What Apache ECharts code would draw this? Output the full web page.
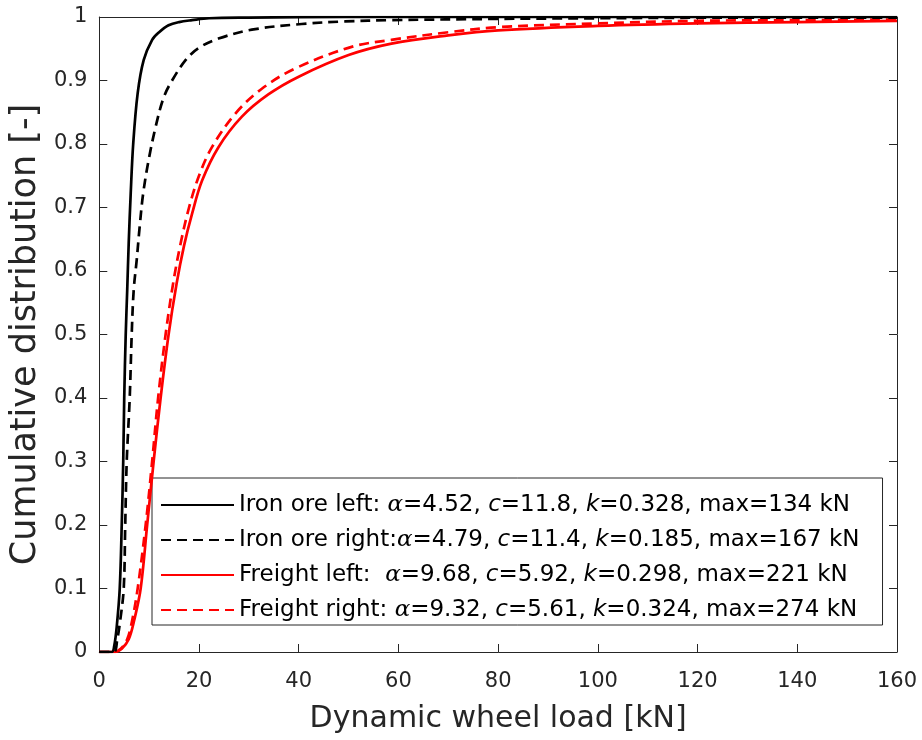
<!DOCTYPE html>
<html>
<head>
<meta charset="utf-8">
<script src="https://cdn.jsdelivr.net/npm/echarts@6/dist/echarts.min.js"></script>
<style>
html,body{margin:0;padding:0;background:#fff;}
#chart{width:922px;height:740px;}
</style>
</head>
<body>
<div id="chart"></div>
<script>
// ---- data ----
const seriesNames = ['Iron ore left', 'Iron ore right', 'Freight left', 'Freight right'];
const legendPrefix = ['Iron ore left: ', 'Iron ore right:', 'Freight left:  ', 'Freight right: '];
const alphaText = ['4.52', '4.79', '9.68', '9.32'];
const cText = ['11.8', '11.4', '5.92', '5.61'];
const kText = ['0.328', '0.185', '0.298', '0.324'];
const maxText = ['134', '167', '221', '274'];

const ironLeftX = [0, 2.5, 3.0, 3.5, 4.1, 4.5, 4.8, 5.0, 5.3, 5.6, 5.9, 6.3, 6.8, 7.7, 8.9, 10.6, 12.0, 13.9, 16.0, 18.6, 22, 30, 50, 160];
const ironLeftY = [0, 0, 0.01, 0.04, 0.1, 0.2, 0.3, 0.4, 0.5, 0.57, 0.644, 0.722, 0.80, 0.88, 0.932, 0.964, 0.976, 0.987, 0.992, 0.995, 0.998, 0.999, 1, 1];

const ironRightX = [0, 2.9, 3.6, 4.2, 4.9, 5.2, 5.5, 6.1, 6.5, 6.9, 7.5, 8.1, 8.8, 9.9, 11.3, 12.9, 14.6, 17.3, 19.9, 23.9, 30.6, 40.6, 49.3, 58.6, 80, 100, 130, 160];
const ironRightY = [0, 0, 0.02, 0.05, 0.1, 0.2, 0.3, 0.4, 0.5, 0.57, 0.617, 0.67, 0.722, 0.775, 0.827, 0.873, 0.90, 0.932, 0.951, 0.966, 0.98, 0.989, 0.993, 0.995, 0.997, 0.998, 0.999, 0.999];

const freightLeftX = [0, 3.2, 4.5, 5.9, 7.0, 8.3, 9.6, 10.9, 12.3, 13.9, 15.5, 17.0, 18.6, 20.6, 23.9, 28.6, 33.9, 40, 50, 58.6, 70, 80, 100, 120, 140, 160];
const freightLeftY = [0, 0, 0.005, 0.02, 0.05, 0.1, 0.2, 0.3, 0.4, 0.5, 0.58, 0.64, 0.69, 0.742, 0.795, 0.843, 0.878, 0.906, 0.94, 0.958, 0.971, 0.979, 0.986, 0.99, 0.992, 0.994];

const freightRightX = [0, 3.0, 4.3, 5.6, 6.6, 7.7, 9.3, 10.6, 11.8, 13.3, 14.8, 16.3, 18.0, 20.0, 22.6, 27.3, 32.6, 39.3, 50.6, 58.6, 70, 80, 100, 120, 140, 160];
const freightRightY = [0, 0, 0.005, 0.02, 0.05, 0.1, 0.2, 0.3, 0.4, 0.5, 0.58, 0.643, 0.70, 0.75, 0.795, 0.848, 0.887, 0.919, 0.953, 0.964, 0.976, 0.984, 0.99, 0.994, 0.995, 0.996];

const xTicks = [0, 20, 40, 60, 80, 100, 120, 140, 160];
const yTicks = [0, 0.1, 0.2, 0.3, 0.4, 0.5, 0.6, 0.7, 0.8, 0.9, 1];

// ---- chart ----
const pairs = (xs, ys) => xs.map((x, i) => [x, ys[i]]);
const seriesData = [
  pairs(ironLeftX, ironLeftY),
  pairs(ironRightX, ironRightY),
  pairs(freightLeftX, freightLeftY),
  pairs(freightRightX, freightRightY)
];
const colors = ['#000000', '#000000', '#ff0000', '#ff0000'];
const dashed = [false, true, false, true];

const axisColor = '#262626';
const font = '"DejaVu Sans", "Liberation Sans", Arial, sans-serif';

const chart = echarts.init(document.getElementById('chart'), null, {renderer: 'canvas'});

const baseX = {
  type: 'value', min: xTicks[0], max: xTicks[xTicks.length - 1], interval: xTicks[1] - xTicks[0],
  axisLine: {show: true, onZero: false, lineStyle: {color: axisColor, width: 1}},
  axisTick: {show: true, inside: true, length: 8, lineStyle: {color: axisColor}},
  splitLine: {show: false}
};
const baseY = {
  type: 'value', min: yTicks[0], max: yTicks[yTicks.length - 1], interval: 0.1,
  axisLine: {show: true, onZero: false, lineStyle: {color: axisColor, width: 1}},
  axisTick: {show: true, inside: true, length: 8, lineStyle: {color: axisColor}},
  splitLine: {show: false}
};

const legendFormatter = (name) => {
  const i = seriesNames.indexOf(name);
  return '{n|' + legendPrefix[i] + '}{g|\u03B1}{n|=' + alphaText[i] + ', }{i|c}{n|=' + cText[i] +
    ', }{i|k}{n|=' + kText[i] + ', max=' + maxText[i] + ' kN}';
};

const option = {
  backgroundColor: '#ffffff',
  animation: false,
  grid: {left: 97, right: 25, top: 17, bottom: 88, containLabel: false},
  xAxis: [
    Object.assign({}, baseX, {
      position: 'bottom',
      axisLabel: {show: true, color: axisColor, fontSize: 21, fontFamily: font, margin: 19},
      name: 'Dynamic wheel load [kN]', nameLocation: 'middle', nameGap: 52,
      nameTextStyle: {color: axisColor, fontSize: 30, fontFamily: font}
    }),
    Object.assign({}, baseX, {position: 'top', axisLabel: {show: false}})
  ],
  yAxis: [
    Object.assign({}, baseY, {
      position: 'left',
      axisLabel: {show: true, color: axisColor, fontSize: 21, fontFamily: font, margin: 12,
        formatter: (v) => String(+v.toFixed(1))},
      name: 'Cumulative distribution [-]', nameLocation: 'middle', nameGap: 47,
      nameTextStyle: {color: axisColor, fontSize: 35, fontFamily: font}
    }),
    Object.assign({}, baseY, {position: 'right', axisLabel: {show: false}})
  ],
  legend: {
    show: true,
    orient: 'vertical',
    left: 152, top: 478,
    padding: [15, 23, 3, 8],
    itemGap: 11,
    itemWidth: 73,
    itemHeight: 14,
    backgroundColor: '#ffffff',
    borderColor: axisColor,
    borderWidth: 1,
    borderRadius: 0,
    itemStyle: {opacity: 0, borderWidth: 0},
    data: seriesNames,
    formatter: legendFormatter,
    textStyle: {
      color: '#000000', fontSize: 23, fontFamily: font, lineHeight: 24,
      rich: {
        n: {fontSize: 23, fontFamily: font, color: '#000000', lineHeight: 24},
        g: {fontSize: 23, fontFamily: '"DejaVu Serif", "Liberation Serif", serif', fontStyle: 'italic', color: '#000000', lineHeight: 24},
        i: {fontSize: 23, fontFamily: font, fontStyle: 'italic', color: '#000000', lineHeight: 24}
      }
    }
  },
  series: seriesNames.map((name, i) => ({
    name: name,
    type: 'line',
    xAxisIndex: 0,
    yAxisIndex: 0,
    data: seriesData[i],
    showSymbol: false,
    symbol: 'none',
    smooth: 0.35,
    clip: true,
    color: colors[i],
    lineStyle: {color: colors[i], width: 2.7, type: dashed[i] ? [10, 6] : 'solid'},
    z: 10 - i
  }))
};

chart.setOption(option);
</script>
</body>
</html>
